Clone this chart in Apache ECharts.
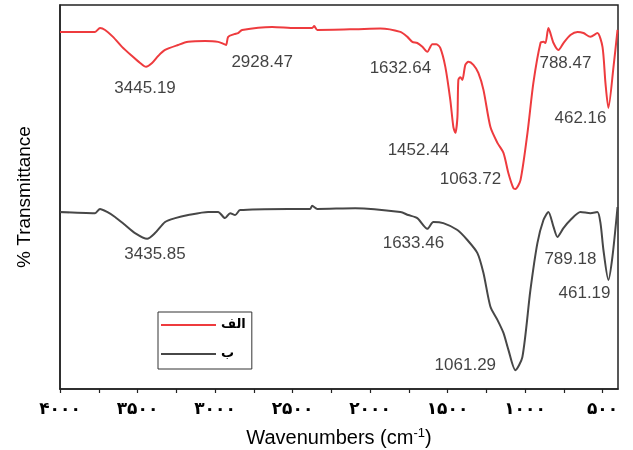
<!DOCTYPE html>
<html><head><meta charset="utf-8">
<script src="https://cdn.jsdelivr.net/npm/echarts@6/dist/echarts.min.js"></script>
<style>html,body{margin:0;padding:0;background:#fff}#c{width:633px;height:450px}</style>
</head><body><div id="c"></div>
<script>
const seriesNames = ['الف', 'ب'];

const redWavenumbers = [4000,3871,3774,3742,3709,3658,3600,3535,3483,3445,3406,3367,3322,3238,3173,3064,2980,2941,2928,2915,2876,2851,2825,2631,2482,2373,2360,2340,2095,1934,1804,1759,1727,1695,1662,1630,1598,1572,1546,1514,1482,1462,1449,1436,1430,1417,1404,1385,1365,1333,1301,1268,1223,1178,1139,1107,1075,1062,1029,984,946,900,881,868,849,816,784,752,707,661,623,578,533,500,481,462,429,403];
const redValues = [93.0,93.0,93.0,94.0,93.5,91.7,89.1,86.7,84.9,83.9,84.9,86.7,88.3,89.6,90.4,90.6,90.4,89.8,89.6,91.7,92.4,92.7,93.5,94.3,94.0,94.0,94.5,93.5,93.7,93.9,93.0,91.7,90.4,90.1,89.1,87.8,89.8,89.8,88.8,83.9,75.3,68.2,66.7,70.8,80.5,81.2,80.5,84.4,85.2,84.4,82.3,77.9,68.2,64.1,61.5,56.2,52.3,52.1,54.4,66.7,79.7,90.1,90.4,90.1,94.0,90.1,88.3,90.1,92.2,93.0,92.7,91.7,92.7,89.1,79.7,73.2,83.9,93.5];

const grayWavenumbers = [4000,3774,3742,3696,3645,3580,3516,3438,3387,3322,3257,3173,3044,2980,2935,2902,2870,2838,2528,2386,2373,2340,2095,1804,1753,1695,1630,1591,1527,1436,1372,1307,1268,1223,1178,1139,1107,1062,1017,965,920,881,849,816,791,752,707,642,578,533,513,494,462,436,403];
const grayValues = [46.1,45.8,46.9,46.1,44.8,42.7,40.6,39.1,40.6,43.5,44.5,45.3,46.1,46.1,44.5,45.8,45.3,46.6,46.9,46.9,47.7,46.9,47.1,46.1,45.3,44.5,41.7,43.5,43.2,41.4,38.8,35.4,30.2,21.4,18.0,14.6,10.2,4.9,8.3,25.8,38.0,44.0,46.1,42.2,39.6,41.9,44.0,46.1,45.8,46.1,43.2,36.2,28.4,34.4,47.4];

const tickValues = [4000,3750,3500,3250,3000,2750,2500,2250,2000,1750,1500,1250,1000,750,500];
const labelValues = [4000,3500,3000,2500,2000,1500,1000,500];
const tickLabels = ['۴۰۰۰','۳۵۰۰','۳۰۰۰','۲۵۰۰','۲۰۰۰','۱۵۰۰','۱۰۰۰','۵۰۰'];

const peakNames = ['3445.19','2928.47','1632.64','1452.44','1063.72','788.47','462.16','3435.85','1633.46','789.18','461.19','1061.29'];
const peakX = [3451,2696,1804,1688,1352,739,642,3387,1720,707,616,1385];
const peakY = [78.4,85.2,83.6,62.2,54.7,84.9,70.6,35.2,38.0,33.9,25.0,6.2];

const chart = echarts.init(document.getElementById('c'), null, {renderer: 'canvas'});
const zip = (xs, ys) => xs.map((x, i) => [x, ys[i]]);

chart.setOption({
  animation: false,
  backgroundColor: '#fff',
  grid: {left: 60, right: 15, top: 5, bottom: 61, outerBoundsMode: 'none', containLabel: false, show: true, borderColor: '#222', borderWidth: 1.5, backgroundColor: 'transparent'},
  legend: {
    data: seriesNames.map(n => ({name: n, icon: 'rect'})),
    orient: 'vertical', left: 158, top: 312,
    itemWidth: 55, itemHeight: 2, itemGap: 13,
    padding: [5, 6, 7, 3],
    borderColor: '#333', borderWidth: 1, backgroundColor: '#fff',
    textStyle: {fontFamily: 'DejaVu Sans', fontWeight: 'bold', fontSize: 13, color: '#000', lineHeight: 16}
  },
  xAxis: {
    type: 'value', min: 400, max: 4000, inverse: true,
    name: '{a|Wavenumbers (cm}{s|-1}{a|)}',
    nameLocation: 'middle', nameGap: 38,
    nameTextStyle: {
      rich: {
        a: {fontFamily: 'Liberation Sans', fontSize: 20, color: '#000', lineHeight: 22},
        s: {fontFamily: 'Liberation Sans', fontSize: 13, color: '#000', verticalAlign: 'top', lineHeight: 22, padding: [0, 0, 10, 0]}
      }
    },
    axisLine: {show: true, lineStyle: {color: '#222', width: 1.5}},
    axisTick: {show: true, inside: false, length: 4, customValues: tickValues, lineStyle: {color: '#222', width: 1.2}},
    axisLabel: {
      show: true, customValues: labelValues, margin: 12,
      formatter: v => { const i = labelValues.indexOf(v); return i >= 0 ? tickLabels[i] : ''; },
      fontFamily: 'DejaVu Sans', fontWeight: 'bold', fontSize: 17, color: '#000'
    },
    splitLine: {show: false}
  },
  yAxis: {
    type: 'value', min: 0, max: 100,
    name: '% Transmittance', nameLocation: 'middle', nameGap: 26,
    nameTextStyle: {fontFamily: 'Liberation Sans', fontSize: 19, color: '#000'},
    axisLine: {show: true, lineStyle: {color: '#222', width: 1.5}},
    axisTick: {show: true, inside: true, length: 9, customValues: [46.1], lineStyle: {color: '#222', width: 1.2}},
    axisLabel: {show: false},
    splitLine: {show: false}
  },
  series: [
    {
      name: seriesNames[0], type: 'line', data: zip(redWavenumbers, redValues),
      symbol: 'none', smooth: 0.25,
      lineStyle: {color: '#ee3b3e', width: 2}, itemStyle: {color: '#ee3b3e'}, z: 3
    },
    {
      name: seriesNames[1], type: 'line', data: zip(grayWavenumbers, grayValues),
      symbol: 'none', smooth: 0.25,
      lineStyle: {color: '#474747', width: 2}, itemStyle: {color: '#474747'}, z: 3
    },
    {
      name: 'peaks', type: 'scatter', symbol: 'circle', symbolSize: 1, silent: true,
      itemStyle: {color: 'rgba(0,0,0,0)'},
      data: peakX.map((x, i) => ({name: peakNames[i], value: [x, peakY[i]]})),
      label: {show: true, position: 'inside', formatter: '{b}', fontFamily: 'Liberation Sans', fontSize: 17, color: '#111'},
      z: 5
    }
  ]
});
</script></body></html>
